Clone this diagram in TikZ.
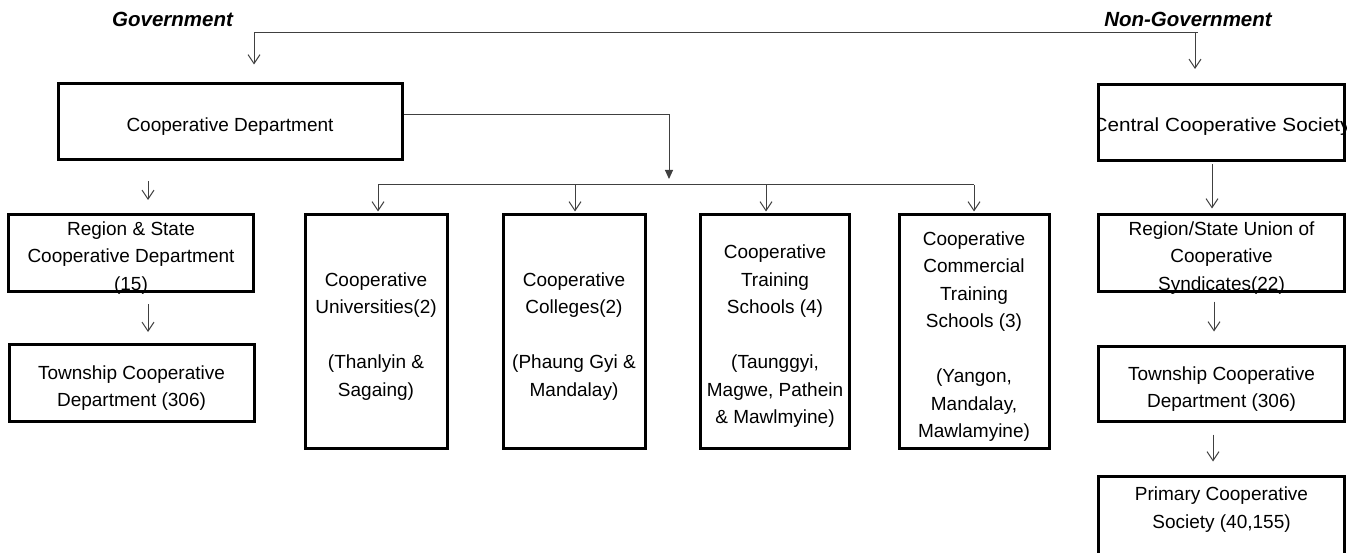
\documentclass[tikz,border=0pt]{standalone}
\usepackage{fontspec}
\setmainfont{Liberation Sans}
\usetikzlibrary{arrows.meta,calc}
\newcommand\boxfont{\fontsize{19}{27.5}\selectfont}
\newcommand\sidefont{\fontsize{20.5}{24}\selectfont\bfseries\itshape}
\begin{document}
\begin{tikzpicture}[x=1pt,y=1pt,
  box/.style={draw=black, line width=3pt, rectangle, inner sep=0pt},
  txt/.style={inner sep=0pt, align=center, font=\boxfont},
  side/.style={inner sep=0pt, font=\sidefont},
  conn/.style={draw=black!75, line width=1pt},
  arr/.style={conn, -{Straight Barb[length=9pt,width=12pt]}},
  farr/.style={conn, -{Triangle[length=9pt,width=8pt]}}]

% canvas
\fill[white] (0,0) rectangle (1351,-553);
\useasboundingbox (0,0) rectangle (1351,-553);
\clip (0,0) rectangle (1351,-553);

% sector headings
\node[side] (gov) at (172.5,-19) {Government};
\node[side] (nongov) at (1188,-19) {Non-Government};

% top level
\node[box, minimum width=344pt, minimum height=76pt] (coopdept) at (230,-122) {};
\node[txt] (coopdept-t) at ([yshift=-5pt]coopdept.center) {Cooperative Department};
\node[box, minimum width=246pt, minimum height=76pt] (central) at (1221.5,-122.5) {};
\begin{scope}
  \clip (central.south west) rectangle (central.north east);
  \node[txt] (central-t) at ([yshift=-4pt]central.center) {\scalebox{1.09}[1]{Central Cooperative Society}};
\end{scope}

% government branch, left column
\node[box, minimum width=245pt, minimum height=77pt] (regstate) at (131,-253) {};
\node[txt] (regstate-t) at ([yshift=-5pt]regstate.center) {Region \& State\\Cooperative Department\\(15)};
\node[box, minimum width=245pt, minimum height=77pt] (twp) at (131.5,-383) {};
\node[txt] (twp-t) at ([yshift=-5pt]twp.center) {Township Cooperative\\Department (306)};

% training institutions
\node[box, minimum width=142pt, minimum height=234pt] (univ) at (376,-331.5) {};
\node[txt] (univ-t) at ([yshift=-5pt]univ.center)
  {Cooperative\\Universities(2)\\[27.5pt](Thanlyin \&\\Sagaing)};
\node[box, minimum width=142pt, minimum height=234pt] (colleges) at (574,-331.5) {};
\node[txt] (colleges-t) at ([yshift=-5pt]colleges.center)
  {Cooperative\\Colleges(2)\\[27.5pt](Phaung Gyi \&\\Mandalay)};
\node[box, minimum width=149pt, minimum height=234pt] (training) at (775,-331.5) {};
\node[txt] (training-t) at ([yshift=-5pt]training.center)
  {Cooperative\\Training\\Schools (4)\\[27.5pt](Taunggyi,\\Magwe, Pathein\\\& Mawlmyine)};
\node[box, minimum width=150pt, minimum height=234pt] (commercial) at (974,-331.5) {};
\node[txt] (commercial-t) at ([yshift=-5pt]commercial.center)
  {Cooperative\\Commercial\\Training\\Schools (3)\\[27.5pt](Yangon,\\Mandalay,\\Mawlamyine)};

% non-government branch
\node[box, minimum width=246pt, minimum height=77pt] (rs2) at (1221.5,-253) {};
\node[txt] (rs2-t) at ([yshift=-5pt]rs2.center) {Region/State Union of\\Cooperative\\Syndicates(22)};
\node[box, minimum width=246pt, minimum height=75pt] (twp2) at (1221.5,-384) {};
\node[txt] (twp2-t) at ([yshift=-5pt]twp2.center) {Township Cooperative\\Department (306)};
\node[box, minimum width=246pt, minimum height=85pt] (primary) at (1221.5,-519) {};
\node[txt] (primary-t) at (1221.5,-509.5) {Primary Cooperative\\Society (40,155)};

% top split
\coordinate (govtop) at (254,-33);
\coordinate (ngtop) at (1198,-33);
\draw[conn] (govtop) -- (ngtop);
\draw[arr, shorten >=18pt] (govtop) -- (govtop |- coopdept.north);
\draw[arr, shorten >=14pt] ([xshift=-3pt]ngtop) -- ([xshift=-3pt]ngtop |- central.north);

% department to institutions
\coordinate (split) at (669,-185);
\draw[farr, shorten >=6pt] ([yshift=7pt]coopdept.east) -| (split);
\draw[conn] ([xshift=2pt]split -| univ.north) -- (split -| commercial.north);
\draw[arr, shorten >=1.5pt] ([xshift=2pt]split -| univ.north) -- ([xshift=2pt]univ.north);
\draw[arr, shorten >=1.5pt] ([xshift=1pt]split -| colleges.north) -- ([xshift=1pt]colleges.north);
\draw[arr, shorten >=1.5pt] ([xshift=-9pt]training.north |- split) -- ([xshift=-9pt]training.north);
\draw[arr, shorten >=1.5pt] (split -| commercial.north) -- (commercial.north);

% left column
\draw[arr, shorten <=20pt, shorten >=13pt] ([xshift=17pt]regstate.north |- coopdept.south) -- ([xshift=17pt]regstate.north);
\draw[arr, shorten <=11pt, shorten >=11pt] ([xshift=17pt]regstate.south) -- ([xshift=17pt]regstate.south |- twp.north);

% right column
\draw[arr, shorten <=2.5pt, shorten >=4.5pt] ([xshift=-9.5pt]central.south) -- ([xshift=-9.5pt]central.south |- rs2.north);
\draw[arr, shorten <=8.5pt, shorten >=13.5pt] ([xshift=-7.5pt]rs2.south) -- ([xshift=-7.5pt]rs2.south |- twp2.north);
\draw[arr, shorten <=11.5pt, shorten >=13.5pt] ([xshift=-8.5pt]twp2.south) -- ([xshift=-8.5pt]twp2.south |- primary.north);
\end{tikzpicture}
\end{document}
